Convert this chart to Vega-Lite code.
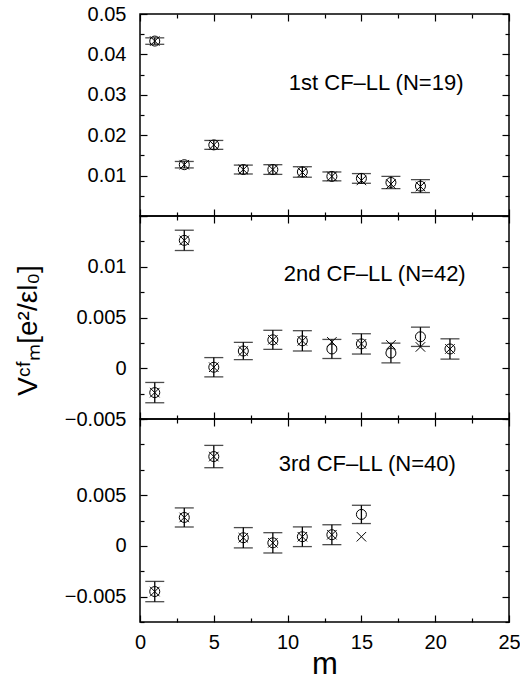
{
  "$schema": "https://vega.github.io/schema/vega-lite/v6.json",
  "background": "white",
  "padding": {"left": 13, "top": 3, "right": 0, "bottom": 0},
  "bounds": "flush",
  "spacing": 0,
  "config": {
    "view": {"stroke": "black", "strokeWidth": 1.5},
    "font": "Liberation Sans",
    "concat": {"spacing": 0},
    "axis": {
      "grid": false,
      "domain": false,
      "tickColor": "black",
      "tickWidth": 1.2,
      "labelColor": "black",
      "labelFont": "Liberation Sans",
      "labelFontSize": 20,
      "labelFlush": false,
      "labelOverlap": false,
      "titleColor": "black",
      "titleFont": "Liberation Sans",
      "titleFontWeight": "normal"
    }
  },
  "datasets": {
    "pts": [
      {"panel": 1, "m": 1, "circle": 0.0433, "err": 0.0008, "cross": 0.0433},
      {"panel": 1, "m": 3, "circle": 0.0127, "err": 0.0008, "cross": 0.0127},
      {"panel": 1, "m": 5, "circle": 0.0176, "err": 0.0011, "cross": 0.0176},
      {"panel": 1, "m": 7, "circle": 0.0115, "err": 0.0011, "cross": 0.0115},
      {"panel": 1, "m": 9, "circle": 0.0115, "err": 0.0012, "cross": 0.0115},
      {"panel": 1, "m": 11, "circle": 0.0109, "err": 0.0013, "cross": 0.0108},
      {"panel": 1, "m": 13, "circle": 0.0098, "err": 0.0011, "cross": 0.0098},
      {"panel": 1, "m": 15, "circle": 0.0093, "err": 0.0012, "cross": 0.0088},
      {"panel": 1, "m": 17, "circle": 0.0083, "err": 0.0015, "cross": 0.0079},
      {"panel": 1, "m": 19, "circle": 0.0074, "err": 0.0016, "cross": 0.0073},
      {"panel": 2, "m": 1, "circle": -0.0024, "err": 0.001, "cross": -0.0024},
      {"panel": 2, "m": 3, "circle": 0.0126, "err": 0.001, "cross": 0.0126},
      {"panel": 2, "m": 5, "circle": 0.0001, "err": 0.00095, "cross": 0.0001},
      {"panel": 2, "m": 7, "circle": 0.0017, "err": 0.00085, "cross": 0.0017},
      {"panel": 2, "m": 9, "circle": 0.0028, "err": 0.00094, "cross": 0.0028},
      {"panel": 2, "m": 11, "circle": 0.0027, "err": 0.001, "cross": 0.0027},
      {"panel": 2, "m": 13, "circle": 0.0019, "err": 0.00094, "cross": 0.0026},
      {"panel": 2, "m": 15, "circle": 0.0024, "err": 0.001, "cross": 0.0024},
      {"panel": 2, "m": 17, "circle": 0.0015, "err": 0.00097, "cross": 0.0023},
      {"panel": 2, "m": 19, "circle": 0.0031, "err": 0.00095, "cross": 0.0021},
      {"panel": 2, "m": 21, "circle": 0.0019, "err": 0.001, "cross": 0.0019},
      {"panel": 3, "m": 1, "circle": -0.0045, "err": 0.001, "cross": -0.0045},
      {"panel": 3, "m": 3, "circle": 0.0028, "err": 0.00094, "cross": 0.0028},
      {"panel": 3, "m": 5, "circle": 0.0088, "err": 0.0011, "cross": 0.0088},
      {"panel": 3, "m": 7, "circle": 0.0008, "err": 0.001, "cross": 0.0008},
      {"panel": 3, "m": 9, "circle": 0.0003, "err": 0.001, "cross": 0.0003},
      {"panel": 3, "m": 11, "circle": 0.0009, "err": 0.00097, "cross": 0.0009},
      {"panel": 3, "m": 13, "circle": 0.0011, "err": 0.00098, "cross": 0.0011},
      {"panel": 3, "m": 15, "circle": 0.0031, "err": 0.0009, "cross": 0.0009}
    ]
  },
  "resolve": {"scale": {"x": "independent", "y": "independent"}},
  "vconcat": [
    {
      "width": 369,
      "height": 202,
      "data": {"name": "pts"},
      "transform": [{"filter": "datum.panel === 1"}],
      "resolve": {"axis": {"x": "independent", "y": "independent"}},
      "layer": [
        {
          "mark": {"type": "errorbar", "ticks": {"size": 19}, "thickness": 1.3, "color": "black"},
          "encoding": {
            "x": {"field": "m", "type": "quantitative", "scale": {"domain": [0, 25], "nice": false},
              "axis": {"orient": "bottom", "title": null, "labels": false,
                "values": [0, 2.5, 5, 7.5, 10, 12.5, 15, 17.5, 20, 22.5, 25],
                "tickSize": {"condition": {"test": "datum.value % 5 === 0", "value": -7}, "value": -4}}},
            "y": {"field": "circle", "type": "quantitative", "scale": {"domain": [0, 0.05], "nice": false, "zero": false},
              "axis": {"orient": "left", "title": null, "format": "~g", "labelPadding": 21,
                "values": [0, 0.005, 0.01, 0.015, 0.02, 0.025, 0.03, 0.035, 0.04, 0.045, 0.05],
                "labelExpr": "round(datum.value * 1000) % 10 === 0 && datum.value > 0.001 ? datum.label : ''",
                "tickSize": {"condition": {"test": "round(datum.value * 1000) % 10 === 0", "value": -7}, "value": -4}}},
            "yError": {"field": "err"}
          }
        },
        {
          "mark": {"type": "point", "shape": "circle", "size": 100, "filled": false, "color": "black", "strokeWidth": 1, "opacity": 1},
          "encoding": {
            "x": {"field": "m", "type": "quantitative", "axis": null},
            "y": {"field": "circle", "type": "quantitative", "axis": null}
          }
        },
        {
          "mark": {"type": "point", "shape": "M-1,-1L1,1M-1,1L1,-1", "size": 90, "filled": false, "color": "black", "strokeWidth": 1, "opacity": 1},
          "encoding": {
            "x": {"field": "m", "type": "quantitative",
              "axis": {"orient": "top", "title": null, "labels": false,
                "values": [0, 2.5, 5, 7.5, 10, 12.5, 15, 17.5, 20, 22.5, 25],
                "tickSize": {"condition": {"test": "datum.value % 5 === 0", "value": -7}, "value": -4}}},
            "y": {"field": "cross", "type": "quantitative",
              "axis": {"orient": "right", "title": null, "labels": false,
                "values": [0, 0.005, 0.01, 0.015, 0.02, 0.025, 0.03, 0.035, 0.04, 0.045, 0.05],
                "tickSize": {"condition": {"test": "round(datum.value * 1000) % 10 === 0", "value": -7}, "value": -4}}}
          }
        },
        {
          "data": {"values": [{}]},
          "mark": {"type": "text", "fontSize": 22, "font": "Liberation Sans", "color": "black", "align": "center", "baseline": "middle"},
          "encoding": {
            "x": {"datum": 16, "type": "quantitative", "axis": null},
            "y": {"datum": 0.033, "type": "quantitative", "axis": null},
            "text": {"value": "1st CF–LL (N=19)"}
          }
        }
      ]
    },
    {
      "width": 369,
      "height": 203,
      "data": {"name": "pts"},
      "transform": [{"filter": "datum.panel === 2"}],
      "resolve": {"axis": {"x": "independent", "y": "independent"}},
      "layer": [
        {
          "mark": {"type": "errorbar", "ticks": {"size": 19}, "thickness": 1.3, "color": "black"},
          "encoding": {
            "x": {"field": "m", "type": "quantitative", "scale": {"domain": [0, 25], "nice": false},
              "axis": {"orient": "bottom", "title": null, "labels": false,
                "values": [0, 2.5, 5, 7.5, 10, 12.5, 15, 17.5, 20, 22.5, 25],
                "tickSize": {"condition": {"test": "datum.value % 5 === 0", "value": -7}, "value": -4}}},
            "y": {"field": "circle", "type": "quantitative", "scale": {"domain": [-0.005, 0.015], "nice": false, "zero": false},
              "axis": {"orient": "left", "format": "~g", "labelPadding": 21,
                "title": "Vᶜᶠₘ[e²/εl₀]", "titleFontSize": 28, "titlePadding": 22, "titleY": 114,
                "values": [-0.005, -0.0025, 0, 0.0025, 0.005, 0.0075, 0.01, 0.0125, 0.015],
                "labelExpr": "abs(round(datum.value * 400)) % 2 === 0 && datum.value < 0.0124 ? datum.label : ''",
                "tickSize": {"condition": {"test": "abs(round(datum.value * 400)) % 2 === 0", "value": -7}, "value": -4}}},
            "yError": {"field": "err"}
          }
        },
        {
          "mark": {"type": "point", "shape": "circle", "size": 100, "filled": false, "color": "black", "strokeWidth": 1, "opacity": 1},
          "encoding": {
            "x": {"field": "m", "type": "quantitative", "axis": null},
            "y": {"field": "circle", "type": "quantitative", "axis": null}
          }
        },
        {
          "mark": {"type": "point", "shape": "M-1,-1L1,1M-1,1L1,-1", "size": 90, "filled": false, "color": "black", "strokeWidth": 1, "opacity": 1},
          "encoding": {
            "x": {"field": "m", "type": "quantitative",
              "axis": {"orient": "top", "title": null, "labels": false,
                "values": [0, 2.5, 5, 7.5, 10, 12.5, 15, 17.5, 20, 22.5, 25],
                "tickSize": {"condition": {"test": "datum.value % 5 === 0", "value": -7}, "value": -4}}},
            "y": {"field": "cross", "type": "quantitative",
              "axis": {"orient": "right", "title": null, "labels": false,
                "values": [-0.005, -0.0025, 0, 0.0025, 0.005, 0.0075, 0.01, 0.0125, 0.015],
                "tickSize": {"condition": {"test": "abs(round(datum.value * 400)) % 2 === 0", "value": -7}, "value": -4}}}
          }
        },
        {
          "data": {"values": [{}]},
          "mark": {"type": "text", "fontSize": 22, "font": "Liberation Sans", "color": "black", "align": "center", "baseline": "middle"},
          "encoding": {
            "x": {"datum": 15.9, "type": "quantitative", "axis": null},
            "y": {"datum": 0.0093, "type": "quantitative", "axis": null},
            "text": {"value": "2nd CF–LL (N=42)"}
          }
        }
      ]
    },
    {
      "width": 369,
      "height": 203,
      "data": {"name": "pts"},
      "transform": [{"filter": "datum.panel === 3"}],
      "resolve": {"axis": {"x": "independent", "y": "independent"}},
      "layer": [
        {
          "mark": {"type": "errorbar", "ticks": {"size": 19}, "thickness": 1.3, "color": "black"},
          "encoding": {
            "x": {"field": "m", "type": "quantitative", "scale": {"domain": [0, 25], "nice": false},
              "axis": {"orient": "bottom", "title": "m", "titleFontSize": 31, "titlePadding": -6, "labelPadding": 17,
                "values": [0, 2.5, 5, 7.5, 10, 12.5, 15, 17.5, 20, 22.5, 25],
                "labelExpr": "datum.value % 5 === 0 ? datum.label : ''",
                "tickSize": {"condition": {"test": "datum.value % 5 === 0", "value": -7}, "value": -4}}},
            "y": {"field": "circle", "type": "quantitative", "scale": {"domain": [-0.0075, 0.0125], "nice": false, "zero": false},
              "axis": {"orient": "left", "title": null, "format": "~g", "labelPadding": 21,
                "values": [-0.0075, -0.005, -0.0025, 0, 0.0025, 0.005, 0.0075, 0.01, 0.0125],
                "labelExpr": "abs(round(datum.value * 400)) % 2 === 0 && abs(datum.value) < 0.006 ? datum.label : ''",
                "tickSize": {"condition": {"test": "abs(round(datum.value * 400)) % 2 === 0 && abs(datum.value) < 0.006", "value": -7}, "value": -4}}},
            "yError": {"field": "err"}
          }
        },
        {
          "mark": {"type": "point", "shape": "circle", "size": 100, "filled": false, "color": "black", "strokeWidth": 1, "opacity": 1},
          "encoding": {
            "x": {"field": "m", "type": "quantitative", "axis": null},
            "y": {"field": "circle", "type": "quantitative", "axis": null}
          }
        },
        {
          "mark": {"type": "point", "shape": "M-1,-1L1,1M-1,1L1,-1", "size": 90, "filled": false, "color": "black", "strokeWidth": 1, "opacity": 1},
          "encoding": {
            "x": {"field": "m", "type": "quantitative",
              "axis": {"orient": "top", "title": null, "labels": false,
                "values": [0, 2.5, 5, 7.5, 10, 12.5, 15, 17.5, 20, 22.5, 25],
                "tickSize": {"condition": {"test": "datum.value % 5 === 0", "value": -7}, "value": -4}}},
            "y": {"field": "cross", "type": "quantitative",
              "axis": {"orient": "right", "title": null, "labels": false,
                "values": [-0.0075, -0.005, -0.0025, 0, 0.0025, 0.005, 0.0075, 0.01, 0.0125],
                "tickSize": {"condition": {"test": "abs(round(datum.value * 400)) % 2 === 0 && abs(datum.value) < 0.006", "value": -7}, "value": -4}}}
          }
        },
        {
          "data": {"values": [{}]},
          "mark": {"type": "text", "fontSize": 22, "font": "Liberation Sans", "color": "black", "align": "center", "baseline": "middle"},
          "encoding": {
            "x": {"datum": 15.4, "type": "quantitative", "axis": null},
            "y": {"datum": 0.0081, "type": "quantitative", "axis": null},
            "text": {"value": "3rd CF–LL (N=40)"}
          }
        }
      ]
    }
  ]
}
